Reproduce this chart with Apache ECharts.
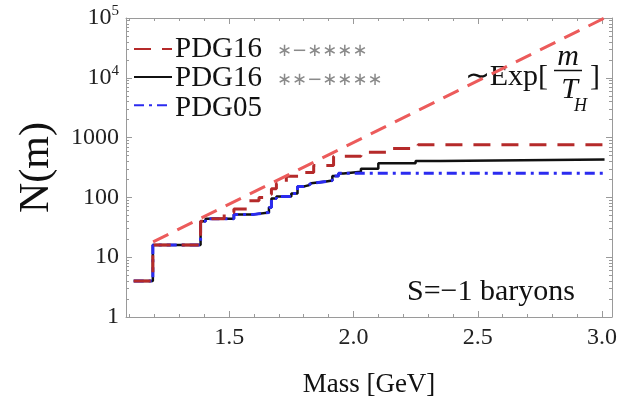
<!DOCTYPE html>
<html><head><meta charset="utf-8">
<script src="https://cdn.jsdelivr.net/npm/echarts@6/dist/echarts.min.js"></script>
<style>html,body{margin:0;padding:0;background:#fff}#c{width:623px;height:413px}</style>
</head><body><div id="c"></div>
<script>
// ---- data ----
const massPDG16one = [1.116, 1.193, 1.385, 1.405, 1.480, 1.519, 1.580, 1.620, 1.660, 1.670, 1.690, 1.730, 1.800, 1.840, 1.920, 2.030, 2.140, 2.260, 3.010];
const nPDG16one    = [4, 16, 40, 44, 56, 64, 88, 100, 112, 140, 170, 225, 260, 340, 490, 570, 660, 760, 760];

const massPDG16two = [1.116, 1.193, 1.385, 1.405, 1.519, 1.600, 1.660, 1.670, 1.690, 1.750, 1.775, 1.800, 1.810, 1.820, 1.830, 1.890, 1.915, 1.940, 1.960, 2.030, 2.100, 2.250, 2.350, 3.010];
const nPDG16two    = [4, 16, 40, 44, 52, 56, 68, 96, 104, 116, 152, 156, 160, 172, 184, 192, 228, 252, 268, 300, 372, 406, 432, 432];

const massPDG05 = [1.116, 1.193, 1.385, 1.405, 1.519, 1.600, 1.660, 1.670, 1.690, 1.750, 1.775, 1.800, 1.810, 1.820, 1.830, 1.890, 1.915, 1.940, 3.010];
const nPDG05    = [4, 16, 40, 44, 52, 56, 68, 96, 104, 116, 152, 156, 160, 172, 184, 192, 228, 254, 254];

const massExp = [1.194, 3.010];
const nExp    = [18, 100000];

const seriesNames = ['PDG16 *-****', 'PDG16 **-****', 'PDG05'];
const legendMain = ['PDG16', 'PDG16', 'PDG05'];
const legendStars = ['∗−∗∗∗∗', '∗∗−∗∗∗∗', ''];

const xMin = 1.085, xMax = 3.04;
const xLabelValues = [1.5, 2.0, 2.5, 3.0];
const xLabelText = ['1.5', '2.0', '2.5', '3.0'];
const xMinorValues = [1.1,1.2,1.3,1.4,1.6,1.7,1.8,1.9,2.1,2.2,2.3,2.4,2.6,2.7,2.8,2.9];

const yMin = 1, yMax = 100000;
const yLabelValues = [1, 10, 100, 1000, 10000, 100000];
const yLabelText = ['{b|1}', '{b|10}', '{b|100}', '{b|1000}', '{b|10}{s|4}', '{b|10}{s|5}'];
const yMinorValues = [2,3,4,5,6,7,8,9,20,30,40,50,60,70,80,90,200,300,400,500,600,700,800,900,
  2000,3000,4000,5000,6000,7000,8000,9000,20000,30000,40000,50000,60000,70000,80000,90000];

// ---- chart ----
const FONT = 'Liberation Serif';
const FRAME = '#9a9a9a';
const zip = (a, b) => a.map((v, i) => [v, b[i]]);

function xAx(pos, major, withLabel) {
  const ax = {
    type: 'value', position: pos, min: xMin, max: xMax, gridIndex: 0,
    axisLine: {show: major, onZero: false, lineStyle: {color: FRAME, width: 1}},
    axisTick: {show: true, inside: true, length: major ? 6 : 3,
      customValues: major ? xLabelValues : xMinorValues, lineStyle: {color: FRAME}},
    axisLabel: {show: withLabel, customValues: xLabelValues,
      formatter: v => xLabelText[xLabelValues.indexOf(+v.toFixed(1))] || '',
      fontFamily: FONT, fontSize: 24, color: '#222', margin: 9},
    splitLine: {show: false}
  };
  if (withLabel) {
    ax.name = 'Mass [GeV]'; ax.nameLocation = 'middle'; ax.nameGap = 54;
    ax.nameTextStyle = {fontFamily: FONT, fontSize: 27, color: '#111'};
  }
  return ax;
}
function yAx(pos, major, withLabel) {
  const ax = {
    type: 'log', logBase: 10, position: pos, min: yMin, max: yMax, gridIndex: 0,
    axisLine: {show: major, onZero: false, lineStyle: {color: FRAME, width: 1}},
    axisTick: {show: true, inside: true, length: major ? 6 : 3,
      customValues: major ? yLabelValues : yMinorValues, lineStyle: {color: FRAME}},
    axisLabel: {show: withLabel, customValues: yLabelValues,
      formatter: v => { const i = yLabelValues.findIndex(t => Math.abs(t - v) / t < 1e-6); return i >= 0 ? yLabelText[i] : ''; },
      margin: 7,
      rich: {
        b: {fontFamily: FONT, fontSize: 24, color: '#222'},
        s: {fontFamily: FONT, fontSize: 15, color: '#222', padding: [0, 0, 14, 0]}
      }},
    splitLine: {show: false}
  };
  if (withLabel) {
    ax.name = 'N(m)'; ax.nameLocation = 'middle'; ax.nameGap = 68;
    ax.nameTextStyle = {fontFamily: FONT, fontSize: 42, color: '#111'};
  }
  return ax;
}

// legend rows: icons from the ECharts legend, texts drawn next to them
const LEG_TOP = 42, LEG_ROW = 29.5, LEG_TEXT_X = 175, LEG_STAR_X = 277;
const legendTexts = [];
legendMain.forEach((t, i) => {
  const y = LEG_TOP + 7 + i * LEG_ROW;
  legendTexts.push({type: 'text', x: LEG_TEXT_X, y: y,
    style: {text: t, font: '29px "Liberation Serif"', fill: '#111', textAlign: 'left', textVerticalAlign: 'middle'}});
  if (legendStars[i]) legendTexts.push({type: 'text', x: LEG_STAR_X, y: y + 2,
    style: {text: legendStars[i], font: '18px "DejaVu Sans"', fill: '#8a8a8a', textAlign: 'left', textVerticalAlign: 'middle'}});
});

const chart = echarts.init(document.getElementById('c'), null, {renderer: 'canvas'});
chart.setOption({
  animation: false,
  backgroundColor: '#fff',
  textStyle: {fontFamily: FONT},
  grid: {left: 126, top: 18, right: 11, bottom: 96, containLabel: false},
  xAxis: [xAx('bottom', true, true), xAx('bottom', false, false), xAx('top', true, false), xAx('top', false, false)],
  yAxis: [yAx('left', true, true), yAx('left', false, false), yAx('right', true, false), yAx('right', false, false)],
  legend: {
    orient: 'vertical', left: 133, top: LEG_TOP, itemWidth: 38, itemHeight: 14, itemGap: LEG_ROW - 14,
    padding: 0, selectedMode: false, data: seriesNames,
    itemStyle: {opacity: 0},
    formatter: () => '',
    textStyle: {fontSize: 1}
  },
  series: [
    {name: 'PDG16 **-****', type: 'line', step: 'end', symbol: 'none', data: zip(massPDG16two, nPDG16two),
     lineStyle: {color: '#111111', width: 2.5}, z: 2},
    {name: 'PDG05', type: 'line', step: 'end', symbol: 'none', data: zip(massPDG05, nPDG05),
     lineStyle: {color: '#2b2bf0', width: 3, type: [10, 5, 3, 5]}, z: 3},
    {name: 'PDG16 *-****', type: 'line', step: 'end', symbol: 'none', data: zip(massPDG16one, nPDG16one),
     lineStyle: {color: '#b52a2a', width: 3, type: [17, 11]}, z: 4},
    {name: 'exp', type: 'line', symbol: 'none', data: zip(massExp, nExp),
     lineStyle: {color: '#ec5b5b', width: 3, type: [17, 10]}, z: 5}
  ],
  graphic: legendTexts.concat([
    {type: 'text', x: 548, y: 77, style: {text: '∼Exp[', font: '30px "Liberation Serif"', fill: '#111', textAlign: 'right', textVerticalAlign: 'middle'}},
    {type: 'text', x: 568, y: 57, style: {text: 'm', font: 'italic 30px "Liberation Serif"', fill: '#111', textAlign: 'center', textVerticalAlign: 'middle'}},
    {type: 'line', shape: {x1: 554, y1: 70.5, x2: 582, y2: 70.5}, style: {stroke: '#111', lineWidth: 1.5}},
    {type: 'text', x: 578, y: 90, style: {text: 'T', font: 'italic 30px "Liberation Serif"', fill: '#111', textAlign: 'right', textVerticalAlign: 'middle'}},
    {type: 'text', x: 574, y: 106, style: {text: 'H', font: 'italic 18px "Liberation Serif"', fill: '#111', textAlign: 'left', textVerticalAlign: 'middle'}},
    {type: 'text', x: 590, y: 77, style: {text: ']', font: '30px "Liberation Serif"', fill: '#111', textAlign: 'left', textVerticalAlign: 'middle'}},
    {type: 'text', x: 407, y: 292, style: {text: 'S=−1 baryons', font: '30px "Liberation Serif"', fill: '#111', textAlign: 'left', textVerticalAlign: 'middle'}}
  ])
});
</script>
</body></html>
